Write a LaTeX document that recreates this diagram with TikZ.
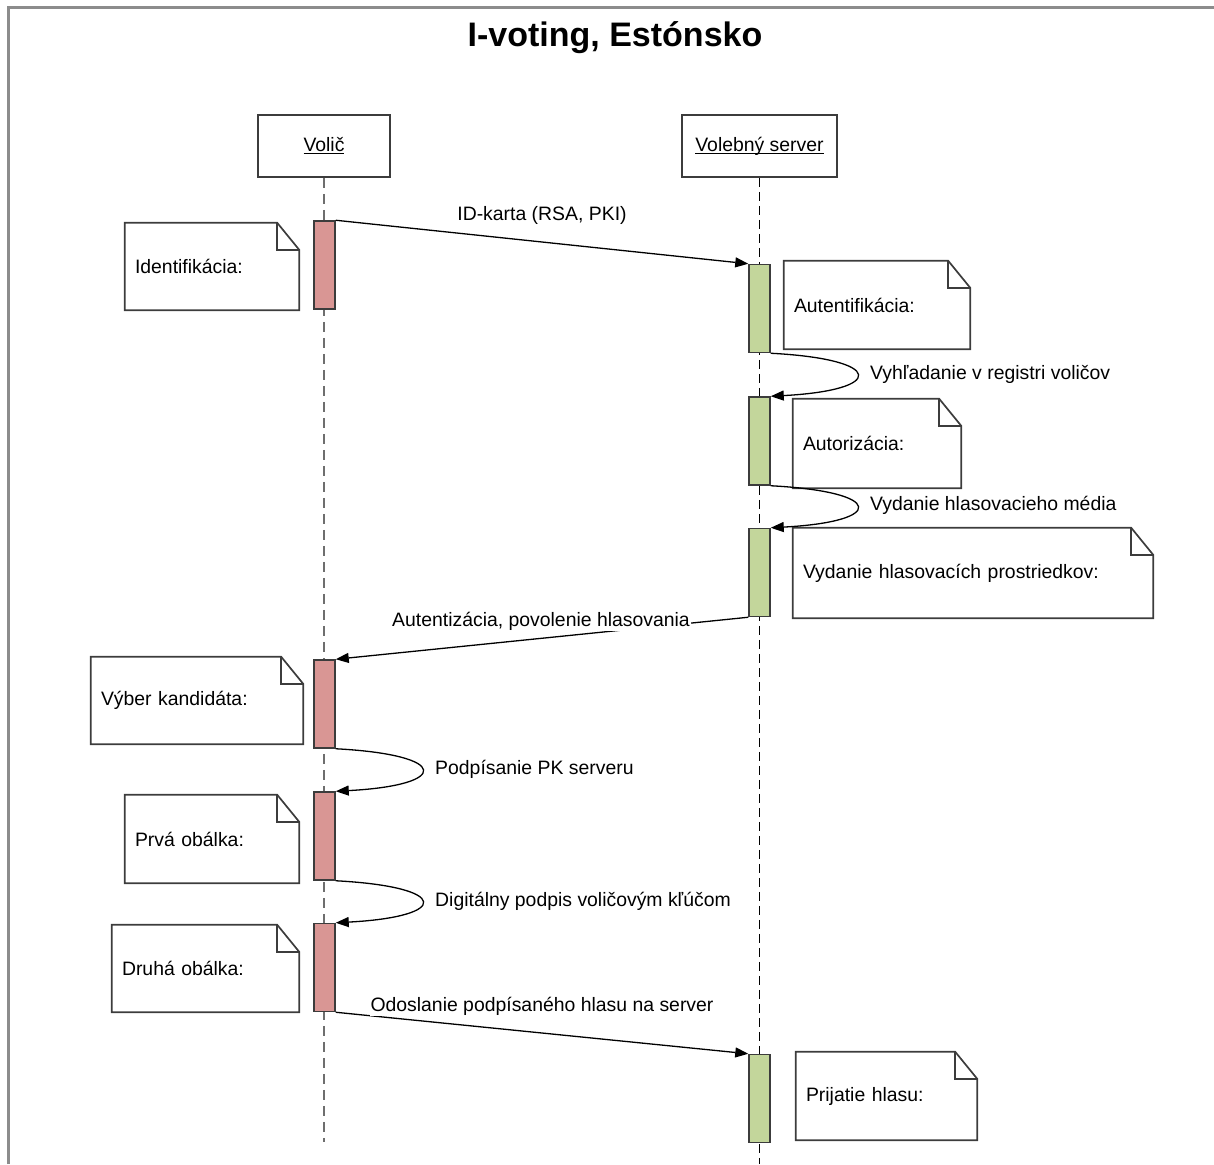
\documentclass[tikz,border=0pt]{standalone}
\usepackage{fontspec}
\setmainfont{Liberation Sans}
\usetikzlibrary{arrows.meta}

\definecolor{actred}{HTML}{D99694}
\definecolor{actgreen}{HTML}{C3D69B}
\definecolor{outline}{HTML}{3C3C3C}
\definecolor{framegray}{HTML}{8C8C8C}
\definecolor{lifegray}{HTML}{6E6E6E}

% underlined participant name with a fixed underline depth
\newcommand\uln[1]{\underline{\smash{#1}\vphantom{A}}}

% UML note with a folded top-right corner: name, x1, y1, x2, y2, text
\newcommand\umlnote[6]{%
  \pgfmathsetmacro\notew{#4-#2}%
  \pgfmathsetmacro\noteh{#5-#3}%
  \pgfmathsetmacro\notetw{#4-#2-20}%
  \node[notebody, minimum width=\notew pt, minimum height=\noteh pt, text width=\notetw pt]
    (#1) at ({(#2+#4)/2},{(#3+#5)/2}) {#6};
  \draw[noteline] (#1.north west) -- ([xshift=-22pt]#1.north east)
     -- ([yshift=-27pt]#1.north east) -- (#1.south east) -- (#1.south west) -- cycle;
  \draw[noteline] ([xshift=-22pt]#1.north east) |- ([yshift=-27pt]#1.north east);
}

\tikzset{
  headbox/.style={draw=outline, line width=1.7pt, fill=white, minimum height=62pt, inner sep=0pt},
  actbar/.style={draw=outline, line width=1.5pt, minimum width=21pt, minimum height=88pt, inner sep=0pt},
  redbar/.style={actbar, fill=actred},
  greenbar/.style={actbar, fill=actgreen},
  notebody/.style={inner xsep=10pt, inner ysep=0pt, align=left},
  noteline/.style={draw=outline, line width=1.7pt, line join=miter},
  msg/.style={draw=black, line width=1.3pt, -{Triangle[length=13pt,width=10pt]}},
  msglabel/.style={inner sep=1pt},
  hidelabel/.style={msglabel, fill=white},
  lifeV/.style={draw=lifegray, line width=2.4pt, dash pattern=on 10pt off 6pt},
  lifeS/.style={draw=black, line width=1.4pt, dash pattern=on 9pt off 5pt},
}

\begin{document}
\begin{tikzpicture}[x=1pt, y=-1pt, font=\fontsize{19.4}{23}\selectfont]
\useasboundingbox (0,0) rectangle (1214,1164);

% frame
\draw[framegray, line width=2.5pt] (8.5,1164) -- (8.5,7.5) -- (1214,7.5);

% title
\node[font=\bfseries\fontsize{34}{40}\selectfont] (title) at (615,38) {I-voting, Estónsko};

% participants
\node[headbox, minimum width=132pt] (voter) at (324,146) {\uln{Volič}};
\node[headbox, minimum width=155pt] (server) at (759.5,146) {\uln{Volebný server}};

% lifelines
\coordinate (voterend) at (324,1142);
\coordinate (serverend) at (759.5,1164);
\draw[lifeV] (voter.south) -- (voterend);
\draw[lifeS] (server.south) -- (serverend);

% activation bars
\node[redbar] (v1) at (324.5,265) {};
\node[redbar] (v2) at (324.5,704) {};
\node[redbar] (v3) at (324.5,836) {};
\node[redbar] (v4) at (324.5,967.5) {};
\node[greenbar] (s1) at (759.5,308.5) {};
\node[greenbar] (s2) at (759.5,441) {};
\node[greenbar] (s3) at (759.5,572.5) {};
\node[greenbar] (s4) at (759.5,1098.5) {};

% notes
\umlnote{nid}{125}{223}{299}{310}{Identifikácia:}
\umlnote{nauth}{784}{261}{970}{349}{Autentifikácia:}
\umlnote{nautz}{793}{399}{961}{488}{Autorizácia:}
\umlnote{nissue}{793}{528}{1153}{618}{Vydanie hlasovacích prostriedkov:}
\umlnote{nchoice}{91}{657}{303}{744}{Výber kandidáta:}
\umlnote{nfirst}{125}{795}{299}{883}{Prvá obálka:}
\umlnote{nsecond}{112}{925}{299}{1012}{Druhá obálka:}
\umlnote{nrecv}{796}{1052}{977}{1140}{Prijatie hlasu:}

% messages
\draw[msg] (v1.north east) -- (s1.north west);
\node[msglabel] (l1) at (542,215) {ID-karta (RSA, PKI)};

\draw[msg] (s1.south east) .. controls +(115,6) and +(115,-6) .. (s2.north east);
\node[msglabel, anchor=west] (l2) at (869,374) {Vyhľadanie v registri voličov};

\draw[msg] (s2.south east) .. controls +(115,6) and +(115,-6) .. (s3.north east);
\node[msglabel, anchor=west] (l3) at (869,505) {Vydanie hlasovacieho média};

\draw[msg] (s3.south west) -- (v2.north east);
\node[hidelabel] (l4) at (541,621) {Autentizácia, povolenie hlasovania};

\draw[msg] (v2.south east) .. controls +(115,6) and +(115,-6) .. (v3.north east);
\node[msglabel, anchor=west] (l5) at (434,769) {Podpísanie PK serveru};

\draw[msg] (v3.south east) .. controls +(115,6) and +(115,-6) .. (v4.north east);
\node[msglabel, anchor=west] (l6) at (434,901) {Digitálny podpis voličovým kľúčom};

\draw[msg] (v4.south east) -- (s4.north west);
\node[hidelabel] (l7) at (542,1006) {Odoslanie podpísaného hlasu na server};
\end{tikzpicture}
\end{document}
